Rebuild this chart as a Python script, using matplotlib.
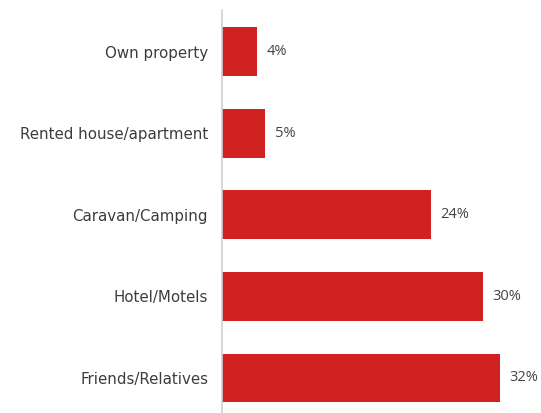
import matplotlib.pyplot as plt

categories = ["Own property", "Rented house/apartment", "Caravan/Camping",
              "Hotel/Motels", "Friends/Relatives"]
shares = [4, 5, 24, 30, 32]

bar_color = "#d12222"

fig = plt.figure(figsize=(5.41, 4.13), dpi=100)
ax = fig.add_axes([222 / 541, 0, 319 / 541, 403 / 413])

pos = list(range(len(categories)))
ax.barh(pos, shares, height=0.6, color=bar_color)

for p, v in zip(pos, shares):
    ax.text(v + 1.1, p, f"{v}%", va="center", ha="left",
            fontsize=10.5, color="#444444", family="Open Sans")

ax.set_yticks(pos)
ax.set_yticklabels(categories, fontsize=10.8, color="#3c3c3c", family="DejaVu Sans")
ax.tick_params(axis="y", length=0, pad=10)
ax.set_xticks([])

ax.set_xlim(0, 32 * 319 / 278)
ax.set_ylim(4 + 35 / 81.6, -41.5 / 81.6)

for side in ["top", "right", "bottom"]:
    ax.spines[side].set_visible(False)
ax.spines["left"].set_color("#d0d0d0")
ax.spines["left"].set_linewidth(1.2)

fig.savefig("out.png", dpi=100)
